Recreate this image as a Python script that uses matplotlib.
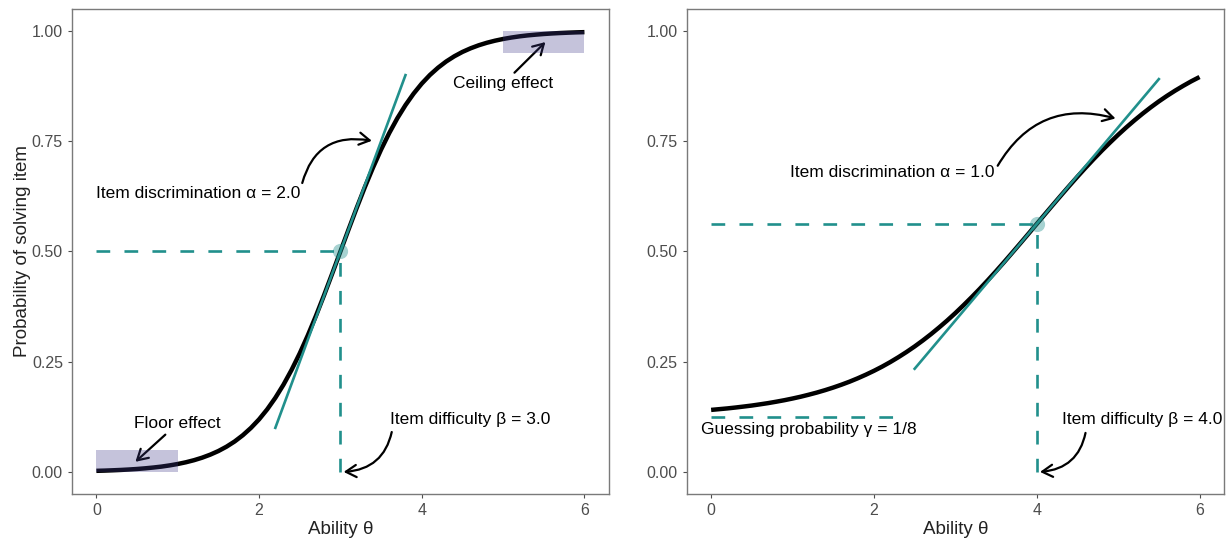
import numpy as np
import matplotlib
matplotlib.use("Agg")
import matplotlib.pyplot as plt
from matplotlib.patches import Rectangle

plt.rcParams['font.family'] = ['Liberation Sans', 'DejaVu Sans']

# ability grid and item characteristic curves
theta = [0.0, 0.1, 0.2, 0.3, 0.4, 0.5, 0.6, 0.7, 0.8, 0.9, 1.0, 1.1, 1.2, 1.3, 1.4, 1.5,
         1.6, 1.7, 1.8, 1.9, 2.0, 2.1, 2.2, 2.3, 2.4, 2.5, 2.6, 2.7, 2.8, 2.9, 3.0,
         3.1, 3.2, 3.3, 3.4, 3.5, 3.6, 3.7, 3.8, 3.9, 4.0, 4.1, 4.2, 4.3, 4.4, 4.5,
         4.6, 4.7, 4.8, 4.9, 5.0, 5.1, 5.2, 5.3, 5.4, 5.5, 5.6, 5.7, 5.8, 5.9, 6.0]
p_left = [0.0025, 0.0030, 0.0037, 0.0045, 0.0055, 0.0067, 0.0082, 0.0100, 0.0121, 0.0148,
          0.0180, 0.0219, 0.0266, 0.0323, 0.0392, 0.0474, 0.0573, 0.0691, 0.0832, 0.0998,
          0.1192, 0.1419, 0.1680, 0.1978, 0.2315, 0.2689, 0.3100, 0.3543, 0.4013, 0.4502,
          0.5000, 0.5498, 0.5987, 0.6457, 0.6900, 0.7311, 0.7685, 0.8022, 0.8320, 0.8581,
          0.8808, 0.9003, 0.9168, 0.9309, 0.9427, 0.9526, 0.9608, 0.9677, 0.9734, 0.9781,
          0.9820, 0.9852, 0.9879, 0.9901, 0.9918, 0.9933, 0.9945, 0.9955, 0.9963, 0.9970, 0.9975]
p_right = [0.1407, 0.1424, 0.1441, 0.1461, 0.1483, 0.1506, 0.1533, 0.1561, 0.1593, 0.1627,
           0.1665, 0.1706, 0.1752, 0.1801, 0.1855, 0.1914, 0.1978, 0.2047, 0.2123, 0.2205,
           0.2293, 0.2388, 0.2491, 0.2602, 0.2720, 0.2846, 0.2981, 0.3124, 0.3276, 0.3435,
           0.3603, 0.3780, 0.3963, 0.4153, 0.4350, 0.4553, 0.4761, 0.4974, 0.5189, 0.5406,
           0.5625, 0.5844, 0.6061, 0.6276, 0.6489, 0.6697, 0.6900, 0.7097, 0.7288, 0.7470,
           0.7647, 0.7815, 0.7974, 0.8126, 0.8269, 0.8404, 0.8530, 0.8648, 0.8758, 0.8862, 0.8957]

# item parameters shown in the annotations
beta_left, p_at_beta_left = 3.0, 0.5
beta_right, p_at_beta_right = 4.0, 0.5625
gamma_right = 0.125

# tangent line end points
tan_left_x = [2.2, 3.8]
tan_left_y = [0.10, 0.90]
tan_right_x = [2.5, 5.5]
tan_right_y = [0.234, 0.891]

teal = '#21908C'
rect_col = '#3f3a8a'
spine_col = '#7a7a7a'
dash = (0, (5.2, 5.4))
fs_note = 12.5

fig = plt.figure(figsize=(12.3, 5.42), dpi=100)
ax1 = fig.add_axes([0.0585, 0.0886, 0.4365, 0.8948])
ax2 = fig.add_axes([0.5583, 0.0886, 0.4368, 0.8948])

for ax in (ax1, ax2):
    ax.set_xlim(-0.3, 6.3)
    ax.set_ylim(-0.05, 1.05)
    ax.set_xticks([0, 2, 4, 6])
    ax.set_yticks([0, 0.25, 0.5, 0.75, 1.0])
    ax.set_yticklabels(['0.00', '0.25', '0.50', '0.75', '1.00'])
    ax.tick_params(labelsize=11.5, labelcolor='#4d4d4d', color='#4d4d4d', length=3, width=0.8)
    for s in ax.spines.values():
        s.set_color(spine_col)
        s.set_linewidth(1.0)
    ax.set_xlabel('Ability θ', fontsize=13.5, color='#222222', labelpad=2)

arrow = dict(arrowstyle='->,head_length=0.6,head_width=0.35', color='black', lw=1.6)

# ---- left panel ----
ax1.plot([0, beta_left], [p_at_beta_left, p_at_beta_left], color=teal, lw=1.9, ls=dash)
ax1.plot([beta_left, beta_left], [0, p_at_beta_left], color=teal, lw=1.9, ls=dash)
ax1.plot(theta, p_left, color='black', lw=3.2, solid_capstyle='butt', zorder=3)
ax1.add_patch(Rectangle((0, 0), 1, 0.05, color=rect_col, alpha=0.3, lw=0, zorder=4))
ax1.add_patch(Rectangle((5, 0.95), 1, 0.05, color=rect_col, alpha=0.3, lw=0, zorder=4))
ax1.scatter([beta_left], [p_at_beta_left], s=120, color=teal, alpha=0.4, lw=0, zorder=4)
ax1.plot(tan_left_x, tan_left_y, color=teal, lw=1.9, zorder=5)
ax1.set_ylabel('Probability of solving item', fontsize=13.5, color='#222222', labelpad=0.5)

ax1.annotate('Item discrimination α = 2.0', xy=(3.42, 0.75), xytext=(1.25, 0.632),
             fontsize=fs_note, ha='center', va='center',
             arrowprops=dict(arrow, connectionstyle='arc3,rad=-0.5', relpos=(1.0, 0.6),
                             shrinkA=0, shrinkB=2))
ax1.annotate('Ceiling effect', xy=(5.52, 0.975), xytext=(5.0, 0.88),
             fontsize=fs_note, ha='center', va='center',
             arrowprops=dict(arrow, shrinkA=1, shrinkB=0))
ax1.annotate('Floor effect', xy=(0.48, 0.023), xytext=(1.0, 0.11),
             fontsize=fs_note, ha='center', va='center',
             arrowprops=dict(arrow, shrinkA=1, shrinkB=0))
ax1.annotate('Item difficulty β = 3.0', xy=(3.04, 0.0), xytext=(4.59, 0.12),
             fontsize=fs_note, ha='center', va='center',
             arrowprops=dict(arrow, connectionstyle='arc3,rad=-0.4', relpos=(0.02, 0.0),
                             shrinkA=2, shrinkB=0))

# ---- right panel ----
ax2.plot([0, beta_right], [p_at_beta_right, p_at_beta_right], color=teal, lw=1.9, ls=dash)
ax2.plot([beta_right, beta_right], [0, p_at_beta_right], color=teal, lw=1.9, ls=dash)
ax2.plot([0, 2.4], [gamma_right, gamma_right], color=teal, lw=1.9, ls=dash)
ax2.plot(theta, p_right, color='black', lw=3.2, solid_capstyle='butt', zorder=3)
ax2.scatter([beta_right], [p_at_beta_right], s=120, color=teal, alpha=0.4, lw=0, zorder=4)
ax2.plot(tan_right_x, tan_right_y, color=teal, lw=1.9, zorder=5)

ax2.annotate('Item discrimination α = 1.0', xy=(5.0, 0.80), xytext=(2.23, 0.68),
             fontsize=fs_note, ha='center', va='center',
             arrowprops=dict(arrow, connectionstyle='arc3,rad=-0.4', relpos=(1.0, 0.6),
                             shrinkA=0, shrinkB=2))
ax2.text(1.2, 0.096, 'Guessing probability γ = 1/8', fontsize=fs_note, ha='center', va='center')
ax2.annotate('Item difficulty β = 4.0', xy=(4.04, 0.0), xytext=(5.3, 0.118),
             fontsize=fs_note, ha='center', va='center',
             arrowprops=dict(arrow, connectionstyle='arc3,rad=-0.4', relpos=(0.15, 0.0),
                             shrinkA=2, shrinkB=0))

fig.savefig('out.png', dpi=100)
